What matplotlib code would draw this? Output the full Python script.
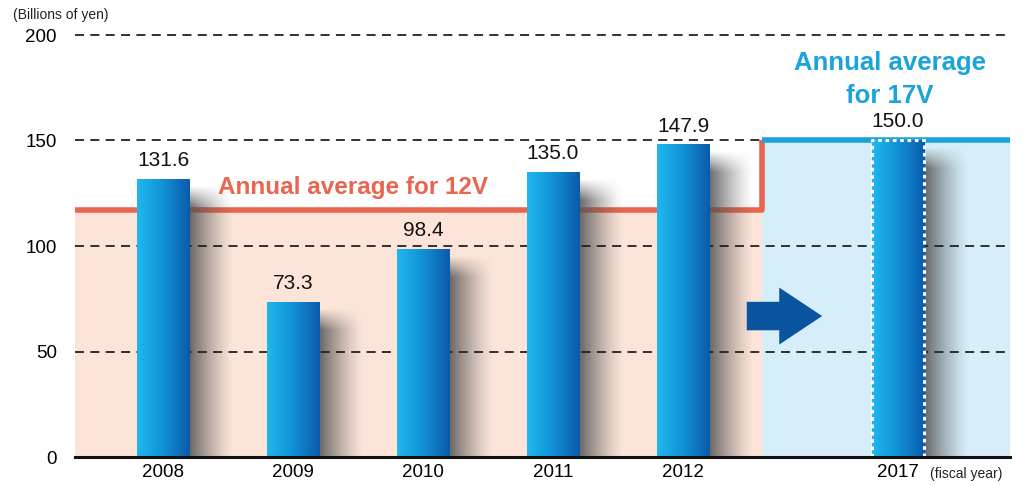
import numpy as np
import matplotlib.pyplot as plt
from matplotlib.colors import LinearSegmentedColormap
from matplotlib.patches import FancyArrow

plt.rcParams['font.family'] = ['Liberation Sans', 'DejaVu Sans']

# ------------------------------------------------------------
# DATA
# ------------------------------------------------------------
years = ['2008', '2009', '2010', '2011', '2012', '2017']
values = [131.6, 73.3, 98.4, 135.0, 147.9, 150.0]
y_ticks = [0, 50, 100, 150, 200]
avg_12v = np.mean(values[:5])   # ~117.2
avg_17v = values[5]             # 150.0

# layout
xpos = [0, 1, 2, 3, 4, 5.65]
bar_w = 0.40
shadow_w = 0.34
x_left, x_right = -0.677, 6.515
x_step = 4.61

c_orange = '#E8654F'
c_cyan = '#1AA4DA'
c_pink = '#FCE4D8'
c_lblue = '#D5EEF9'
c_arrow = '#0B55A0'

fig = plt.figure(figsize=(10.24, 4.86), dpi=100)
ax = fig.add_axes([75 / 1024, 29 / 486, 935 / 1024, 422 / 486])

# background regions
ax.fill_between([x_left, x_step], 0, avg_12v, color=c_pink, zorder=0, lw=0)
ax.fill_between([x_step, x_right], 0, avg_17v, color=c_lblue, zorder=0, lw=0)

# average lines (step)
ax.plot([x_left, x_step, x_step], [avg_12v, avg_12v, avg_17v],
        color=c_orange, lw=4, zorder=1, solid_capstyle='butt')
ax.plot([x_step, x_right], [avg_17v, avg_17v], color=c_cyan, lw=4, zorder=1,
        solid_capstyle='butt')

# shadows to the right of bars
for x, v in zip(xpos, values):
    nx, ny = 60, 200
    t = np.linspace(0, 1, nx)
    a_h = (1 - t) ** 1.3
    yy = np.linspace(v, 0, ny)
    a_v = np.clip((v - 3 - yy) / 10, 0, 1)
    rgba = np.zeros((ny, nx, 4))
    rgba[..., :3] = 0.33
    rgba[..., 3] = 0.88 * a_v[:, None] * a_h[None, :]
    x0 = x + bar_w / 2
    ax.imshow(rgba, extent=[x0, x0 + shadow_w, 0, v], aspect='auto',
              zorder=2, interpolation='bilinear')

# gridlines
for yt in y_ticks[1:]:
    xe = x_step if yt == 150 else x_right
    ax.plot([x_left, xe], [yt, yt], color='#222222', lw=1.3,
            dashes=(5, 3.5), zorder=3, clip_on=False)

# gradient bars
cmap = LinearSegmentedColormap.from_list('bar', ['#20B8EE', '#1190D6', '#0A5BAA'])
grad = np.linspace(0, 1, 256)[None, :]
for x, v in zip(xpos, values):
    ax.imshow(grad, cmap=cmap, extent=[x - bar_w / 2, x + bar_w / 2, 0, v],
              aspect='auto', zorder=4)

# dotted white border on the 2017 bar
x17, v17 = xpos[5], values[5]
ax.plot([x17 - bar_w / 2, x17 - bar_w / 2, x17 + bar_w / 2, x17 + bar_w / 2],
        [0, v17, v17, 0], color='white', lw=2.2, dashes=(1.2, 1.2), zorder=5)

# value labels
for x, v in zip(xpos, values):
    ax.annotate(f'{v:.1f}', (x, v), xytext=(0, 6.5), textcoords='offset points',
                ha='center', va='bottom', fontsize=15, color='#111111', zorder=6)

# arrow
ax.add_patch(FancyArrow(4.49, 66.8, 0.58, 0, width=13.5, head_width=27,
                        head_length=0.33, length_includes_head=True,
                        color=c_arrow, lw=0, zorder=5))

# annotations
ax.text(0.42, 127.5, 'Annual average for 12V', color=c_orange, fontsize=17.5,
        fontweight='bold', ha='left', va='center', zorder=6)
ax.text(5.59, 179, 'Annual average\nfor 17V', color=c_cyan, fontsize=18.5,
        fontweight='bold', ha='center', va='center', linespacing=1.45, zorder=6)

# axes styling
ax.set_xlim(x_left, x_right)
ax.set_ylim(0, 200)
for s in ['top', 'right', 'left']:
    ax.spines[s].set_visible(False)
ax.spines['bottom'].set_linewidth(2.2)
ax.spines['bottom'].set_color('#111111')
ax.spines['bottom'].set_zorder(7)
ax.set_xticks(xpos)
ax.set_xticklabels(years, fontsize=13.5)
ax.set_yticks(y_ticks)
ax.set_yticklabels([str(t) for t in y_ticks], fontsize=13.5)
ax.tick_params(axis='both', length=0)
ax.tick_params(axis='y', pad=13)
ax.tick_params(axis='x', pad=5)

fig.text(13 / 1024, 1 - 15 / 486, '(Billions of yen)', fontsize=10,
         ha='left', va='center', color='#222222')
fig.text(930 / 1024, 1 - 474 / 486, '(fiscal year)', fontsize=10,
         ha='left', va='center', color='#222222')

fig.savefig('out.png', dpi=100)
